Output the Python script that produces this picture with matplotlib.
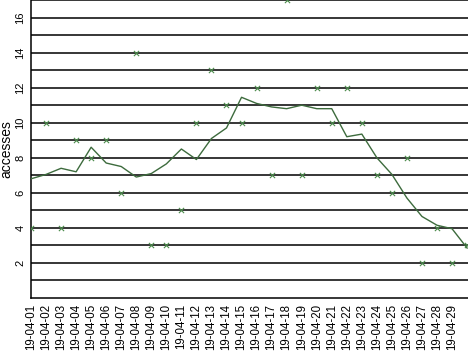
"""Daily accesses, April 2019: raw counts (x markers) and smoothed trend line."""

import matplotlib
matplotlib.use("Agg")
import matplotlib.pyplot as plt
import numpy as np

plt.rcParams["font.family"] = ["Liberation Sans", "DejaVu Sans"]

# ── Data ──────────────────────────────────────────────────────────────
days = [f"19-04-{d:02d}" for d in range(1, 31)]
accesses = [4, 10, 4, 9, 8, 9, 6, 14, 3, 3,
            5, 10, 13, 11, 10, 12, 7, 17, 7, 12,
            10, 12, 10, 7, 6, 8, 2, 4, 2, 3]
trend = [6.8, 7.05, 7.4, 7.2, 8.6, 7.7, 7.5, 6.9, 7.1, 7.65,
         8.5, 7.9, 9.1, 9.7, 11.45, 11.1, 10.9, 10.8, 11.0, 10.8,
         10.8, 9.2, 9.35, 8.0, 7.05, 5.7, 4.65, 4.15, 3.95, 2.85]
tick_labels = days[:29]

# ── Figure ────────────────────────────────────────────────────────────
fig = plt.figure(figsize=(4.68, 3.51), dpi=100)
ax = fig.add_axes([31 / 468, 53 / 351, 437 / 468, 298 / 351])

x = np.arange(len(days))
for yv in range(1, 18):
    ax.axhline(yv, color="black", lw=1.1, zorder=1)

ax.plot(x, trend, color="#3d6b3d", lw=1.0, zorder=3)
ax.scatter(x, accesses, marker="x", s=14, color="#4c8c4c",
           linewidths=0.8, zorder=4, clip_on=True)

ax.set_xlim(0, 29.06)
ax.set_ylim(0, 17)
ax.set_xticks(x[:29])
ax.set_xticklabels(tick_labels, rotation=90, fontsize=8.3)
ax.set_yticks(range(2, 17, 2))
ax.set_yticklabels([str(v) for v in range(2, 17, 2)], rotation=90,
                   va="center", fontsize=8)
ax.tick_params(axis="x", length=0, pad=4)
ax.tick_params(axis="y", length=0, pad=4)
ax.set_ylabel("accesses", fontsize=10)
ax.yaxis.set_label_coords(-18 / 437, 0.5)

ax.spines["right"].set_visible(False)
ax.spines["top"].set_visible(False)
for s in ("left", "bottom"):
    ax.spines[s].set_linewidth(1.1)

fig.savefig("out.png", dpi=100)
